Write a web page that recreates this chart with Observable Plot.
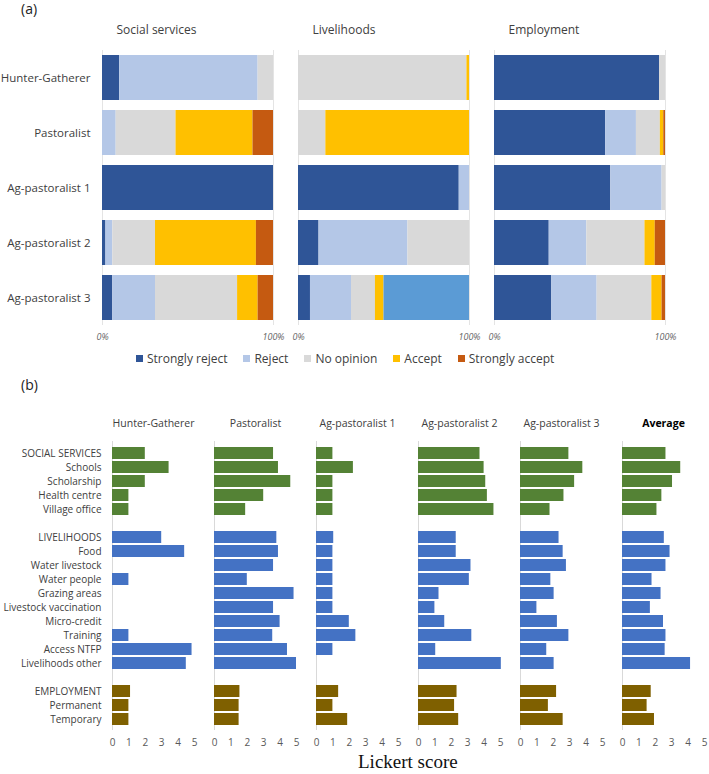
<!DOCTYPE html>
<html>
<head>
<meta charset="utf-8">
<script src="https://cdn.jsdelivr.net/npm/d3@7"></script>
<script src="https://cdn.jsdelivr.net/npm/@observablehq/plot@0.6"></script>
<style>
  body { margin: 0; background: #fff; font-family: "Open Sans", sans-serif; color: #404040; }
  #wrap { position: relative; width: 709px; height: 774px; overflow: hidden; }
  .panel-label { position: absolute; font-size: 14px; color: #222; line-height: 18px; }
  #lblA { left: 21px; top: 0px; }
  #lblB { left: 21px; top: 376px; }
  #chartA { position: absolute; left: 0; top: 0; }
  #chartB { position: absolute; left: 0; top: 395px; }
  #legend { position: absolute; left: 136px; top: 350px; display: flex; align-items: center; font-size: 12px; color: #404040; white-space: nowrap; }
  #legend .item { display: flex; align-items: center; margin-right: 16px; }
  #legend .sw { width: 7px; height: 7px; margin-right: 4px; }
  #xtitle { position: absolute; left: 358px; top: 751px; font-family: "Liberation Serif", serif; font-size: 19px; color: #111; }
</style>
</head>
<body>
<div id="wrap">
  <div id="chartA"></div>
  <div id="legend"></div>
  <div id="chartB"></div>
  <div class="panel-label" id="lblA">(a)</div>
  <div class="panel-label" id="lblB">(b)</div>
  <div id="xtitle">Lickert score</div>
</div>
<script>
// ---------- Panel (a) data ----------
const groups = ["Hunter-Gatherer", "Pastoralist", "Ag-pastoralist 1", "Ag-pastoralist 2", "Ag-pastoralist 3"];
const themes = ["Social services", "Livelihoods", "Employment"];
const responses = ["Strongly reject", "Reject", "No opinion", "Accept", "Strongly accept", "Other"];
const legendResponses = ["Strongly reject", "Reject", "No opinion", "Accept", "Strongly accept"];
const responseColors = ["#2F5597", "#B4C7E7", "#D9D9D9", "#FFC000", "#C55A11", "#5B9BD5"];

// percent shares per group, in the order of `responses`
const socialShares = [
  [10, 81, 9, 0, 0, 0],
  [0, 8, 35, 45, 12, 0],
  [100, 0, 0, 0, 0, 0],
  [2, 4, 25, 59, 10, 0],
  [6, 25, 48, 12, 9, 0]
];
const livelihoodShares = [
  [0, 0, 98.5, 1.5, 0, 0],
  [0, 0, 16, 84, 0, 0],
  [94, 6, 0, 0, 0, 0],
  [12, 52, 36, 0, 0, 0],
  [7, 24, 14, 5, 0, 50]
];
const employmentShares = [
  [96.5, 0, 3.5, 0, 0, 0],
  [65, 18, 14, 2, 1, 0],
  [68, 30, 2, 0, 0, 0],
  [32, 22, 34, 6, 6, 0],
  [33.5, 26.5, 32, 6, 2, 0]
];

// ---------- Panel (b) data ----------
const columns = ["Hunter-Gatherer", "Pastoralist", "Ag-pastoralist 1", "Ag-pastoralist 2", "Ag-pastoralist 3", "Average"];
const socialItems = ["SOCIAL SERVICES", "Schools", "Scholarship", "Health centre", "Village office"];
const livelihoodItems = ["LIVELIHOODS", "Food", "Water livestock", "Water people", "Grazing areas", "Livestock vaccination", "Micro-credit", "Training", "Access NTFP", "Livelihoods other"];
const employmentItems = ["EMPLOYMENT", "Permanent", "Temporary"];
const scoreTicks = [0, 1, 2, 3, 4, 5];
const themeColors = ["#548235", "#4472C4", "#7F6000"];

// Lickert scores, item order: social (5), livelihoods (10), employment (3)
const hunterGatherer = [2.0, 3.45, 2.0, 1.0, 1.0,  3.0, 4.4, null, 1.0, null, null, null, 1.0, 4.85, 4.5,  1.1, 1.0, 1.0];
const pastoralist    = [3.6, 3.9, 4.65, 3.0, 1.9,  3.8, 3.9, 3.6, 2.0, 4.85, 3.6, 4.0, 3.55, 4.45, 5.0,  1.55, 1.5, 1.5];
const agPastoral1    = [1.0, 2.25, 1.0, 1.0, 1.0,  1.05, 1.0, 1.0, 1.0, 1.0, 1.0, 2.0, 2.4, 1.0, null,  1.35, 1.0, 1.9];
const agPastoral2    = [3.75, 4.0, 4.1, 4.2, 4.6,  2.3, 2.3, 3.2, 3.1, 1.25, 1.0, 1.6, 3.25, 1.05, 5.05,  2.35, 2.2, 2.45];
const agPastoral3    = [2.95, 3.8, 3.3, 2.65, 1.8,  2.35, 2.6, 2.8, 1.85, 2.05, 1.0, 2.25, 2.95, 1.6, 2.05,  2.2, 1.7, 2.6];
const average        = [2.65, 3.55, 3.05, 2.4, 2.1,  2.55, 2.9, 2.65, 1.8, 2.35, 1.7, 2.5, 2.65, 2.6, 4.15,  1.75, 1.5, 1.95];

// ---------- Build tables ----------
const shareTable = [];
[socialShares, livelihoodShares, employmentShares].forEach((rows, t) =>
  rows.forEach((vals, g) => vals.forEach((v, r) => {
    if (v > 0) shareTable.push({theme: themes[t], group: groups[g], response: responses[r], share: v});
  })));

const items = [...socialItems, ...livelihoodItems, ...employmentItems];
const itemTheme = new Map([
  ...socialItems.map(d => [d, themes[0]]),
  ...livelihoodItems.map(d => [d, themes[1]]),
  ...employmentItems.map(d => [d, themes[2]])
]);
const rowSlots = [...socialItems, " ", ...livelihoodItems, "  ", ...employmentItems];
const scoreTable = [];
[hunterGatherer, pastoralist, agPastoral1, agPastoral2, agPastoral3, average].forEach((vals, c) =>
  vals.forEach((v, i) => {
    if (v != null) scoreTable.push({column: columns[c], item: items[i], theme: itemTheme.get(items[i]), score: v});
  }));

// ---------- Panel (a) ----------
const chartA = Plot.plot({
  width: 709, height: 345,
  marginLeft: 102, marginRight: 44, marginTop: 50, marginBottom: 20,
  style: {fontFamily: "'Open Sans', sans-serif", fontSize: "11.5px", color: "#404040", background: "transparent"},
  fx: {domain: themes, paddingInner: 0.128, paddingOuter: 0, axis: null},
  y: {domain: groups, paddingInner: 0.18, paddingOuter: 0.05, label: null, tickSize: 0, tickPadding: 12},
  x: {domain: [0, 100], ticks: [0, 100], tickFormat: d => d + "%", label: null, tickSize: 0, tickPadding: 8},
  color: {domain: responses, range: responseColors},
  marks: [
    Plot.ruleX([0, 100], {stroke: "#e4e4e4"}),
    Plot.barX(shareTable, Plot.stackX({x: "share", y: "group", fx: "theme", fill: "response"})),
    Plot.text(themes, {fx: d => d, text: d => d, frameAnchor: "top-left", dx: 14, dy: -20, lineAnchor: "middle", textAnchor: "start", fontSize: 12, fill: "#404040"})
  ]
});
document.getElementById("chartA").append(chartA);
d3.select(chartA).selectAll('g[aria-label="x-axis tick label"] text').attr("font-size", 9).attr("font-style", "italic").attr("fill", "#666");

// legend
const legend = d3.select("#legend");
legendResponses.forEach(r => {
  const it = legend.append("div").attr("class", "item");
  it.append("div").attr("class", "sw").style("background", responseColors[responses.indexOf(r)]);
  it.append("span").text(r);
});

// ---------- Panel (b) ----------
const chartB = Plot.plot({
  width: 709, height: 379,
  marginLeft: 112, marginRight: 5, marginTop: 46, marginBottom: 44,
  style: {fontFamily: "'Open Sans', sans-serif", fontSize: "10px", color: "#404040", background: "transparent"},
  fx: {domain: columns, paddingInner: 0.2, paddingOuter: 0, label: null, axis: "top", tickSize: 0, tickPadding: 15},
  y: {domain: rowSlots, paddingInner: 0.17, paddingOuter: 0.085, label: null, tickSize: 0, tickPadding: 11},
  x: {domain: [0, 5], ticks: scoreTicks, tickFormat: d3.format("d"), label: null, tickSize: 0, tickPadding: 8},
  color: {domain: themes, range: themeColors},
  marks: [
    Plot.ruleX([0], {stroke: "#d9d9d9"}),
    Plot.barX(scoreTable, {x: "score", y: "item", fx: "column", fill: "theme"})
  ]
});
document.getElementById("chartB").append(chartB);
d3.select(chartB).selectAll('g[aria-label="fx-axis tick label"] text').attr("font-size", 10.5);
d3.select(chartB).selectAll("text").filter(function() { return this.textContent === "Average"; }).attr("font-weight", "bold").attr("fill", "#000");
d3.select(chartB).selectAll('g[aria-label="x-axis tick label"] text').attr("fill", "#595959");
</script>
</body>
</html>
